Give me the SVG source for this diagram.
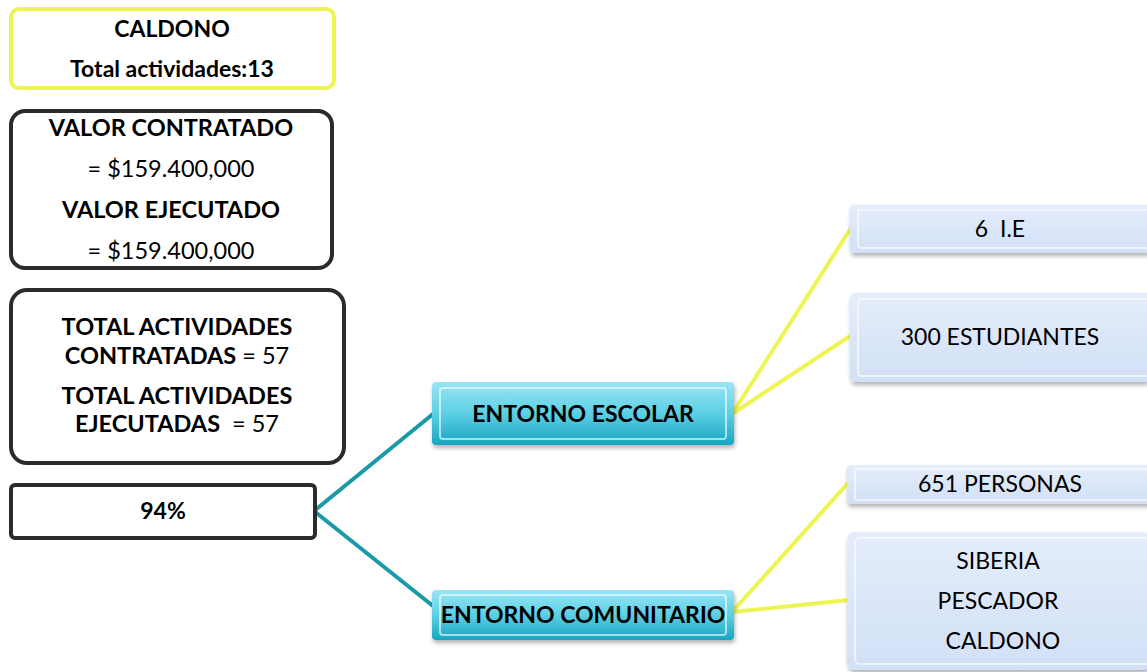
<svg xmlns="http://www.w3.org/2000/svg" width="1147" height="672" viewBox="0 0 1147 672">
<defs>
<linearGradient id="cyan" x1="0" y1="0" x2="0" y2="1">
<stop offset="0" stop-color="#9ae6f4"/>
<stop offset="0.5" stop-color="#5ccfe4"/>
<stop offset="1" stop-color="#16a6c0"/>
</linearGradient>
<linearGradient id="pale" x1="0" y1="0" x2="0" y2="1">
<stop offset="0" stop-color="#e4edfb"/>
<stop offset="1" stop-color="#d2e0f6"/>
</linearGradient>
<filter id="sh" x="-5%" y="-10%" width="110%" height="130%">
<feDropShadow dx="1" dy="3" stdDeviation="2" flood-color="#000" flood-opacity="0.3"/>
</filter>
</defs>
<style>
text{font-family:Lato,"Liberation Sans",sans-serif;fill:#000;text-anchor:middle;white-space:pre}
.b{font-weight:bold}
.s{font-size:23.5px}
.m{font-size:23px}
.plain{fill:#fff;stroke:#2b2b2b;stroke-width:4}
.cyanbox{fill:url(#cyan);filter:url(#sh)}
.palebox{fill:url(#pale);filter:url(#sh)}
.bevel{fill:none;stroke:#ffffff;stroke-opacity:0.6;stroke-width:2}
.teal{stroke:#1a9aa6;stroke-width:4;fill:none}
.yel{stroke:#eef553;stroke-width:4;fill:none}
</style>
<g id="connectors">
<line class="teal" x1="314" y1="511" x2="433" y2="414"/>
<line class="teal" x1="314" y1="511" x2="433" y2="606"/>
<line class="yel" x1="732" y1="414" x2="851" y2="228"/>
<line class="yel" x1="732" y1="414" x2="850" y2="336"/>
<line class="yel" x1="732" y1="612" x2="849" y2="482"/>
<line class="yel" x1="732" y1="612" x2="849" y2="600"/>
</g>
<g id="caldono">
<rect x="11" y="9" width="323" height="79" rx="8" fill="#fff" stroke="#eef553" stroke-width="4"/>
<text class="b m" x="172" y="37">CALDONO</text>
<text class="b m" x="172" y="77">Total actividades:13</text>
</g>
<g id="valor">
<rect class="plain" x="11" y="111" width="321" height="157" rx="14"/>
<text class="b s" x="171" y="136">VALOR CONTRATADO</text>
<text class="s" x="171" y="177">= $159.400,000</text>
<text class="b s" x="171" y="218">VALOR EJECUTADO</text>
<text class="s" x="171" y="259">= $159.400,000</text>
</g>
<g id="totales">
<rect class="plain" x="11" y="290" width="333" height="173" rx="16"/>
<text class="s" x="177" y="335"><tspan class="b">TOTAL ACTIVIDADES</tspan></text>
<text class="s" x="177" y="364"><tspan class="b">CONTRATADAS</tspan> = 57</text>
<text class="s" x="177" y="404"><tspan class="b">TOTAL ACTIVIDADES</tspan></text>
<text class="s" x="177" y="432"><tspan class="b">EJECUTADAS</tspan>  = 57</text>
</g>
<g id="porcentaje">
<rect class="plain" x="11" y="485" width="304" height="53" rx="4"/>
<text class="b m" x="163" y="519">94%</text>
</g>
<g id="escolar">
<rect class="cyanbox" x="432" y="382" width="302" height="63" rx="4"/>
<rect class="bevel" x="440" y="388" width="286" height="51" rx="3"/>
<text class="b m" x="583" y="422">ENTORNO ESCOLAR</text>
</g>
<g id="comunitario">
<rect class="cyanbox" x="432" y="590" width="302" height="50" rx="4"/>
<rect class="bevel" x="440" y="595" width="286" height="40" rx="3"/>
<text class="b m" x="583" y="623">ENTORNO COMUNITARIO</text>
</g>
<g id="ie">
<rect class="palebox" x="850" y="205" width="300" height="48" rx="4"/>
<rect class="bevel" x="858" y="210" width="292" height="38" rx="3"/>
<text class="m" x="1000" y="237">6  I.E</text>
</g>
<g id="estudiantes">
<rect class="palebox" x="850" y="293" width="300" height="89" rx="5"/>
<rect class="bevel" x="858" y="299" width="292" height="77" rx="3"/>
<text class="m" x="1000" y="345">300 ESTUDIANTES</text>
</g>
<g id="personas">
<rect class="palebox" x="847" y="465" width="303" height="39" rx="4"/>
<rect class="bevel" x="855" y="469" width="295" height="31" rx="3"/>
<text class="m" x="1000" y="492">651 PERSONAS</text>
</g>
<g id="lugares">
<rect class="palebox" x="847" y="532" width="303" height="138" rx="8"/>
<rect class="bevel" x="855" y="538" width="295" height="126" rx="5"/>
<text class="m" x="998" y="569">SIBERIA</text>
<text class="m" x="998" y="609">PESCADOR</text>
<text class="m" x="1000" y="649"> CALDONO</text>
</g>
</svg>
